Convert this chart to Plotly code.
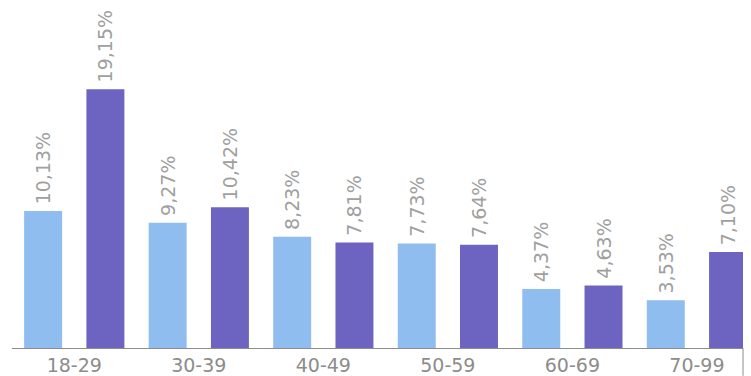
import plotly.graph_objects as go

categories = ["18-29", "30-39", "40-49", "50-59", "60-69", "70-99"]
series_a = [10.13, 9.27, 8.23, 7.73, 4.37, 3.53]
series_b = [19.15, 10.42, 7.81, 7.64, 4.63, 7.10]
labels_a = ["10,13%", "9,27%", "8,23%", "7,73%", "4,37%", "3,53%"]
labels_b = ["19,15%", "10,42%", "7,81%", "7,64%", "4,63%", "7,10%"]

font = dict(family="DejaVu Sans", size=19, color="#a0a0a0")

fig = go.Figure()
fig.add_trace(go.Bar(x=categories, y=series_a, text=["\u2009" + t for t in labels_a], textposition="outside",
                     textangle=-90, textfont=font, marker=dict(color="#8fbdf0", line=dict(width=0)),
                     cliponaxis=False, name="A"))
fig.add_trace(go.Bar(x=categories, y=series_b, text=["\u2009" + t for t in labels_b], textposition="outside",
                     textangle=-90, textfont=font, marker=dict(color="#6c64c0", line=dict(width=0)),
                     cliponaxis=False, name="B"))

fig.update_layout(
    width=751, height=376,
    margin=dict(l=12, r=8, t=0, b=25),
    barmode="group", bargap=0.0, bargroupgap=0.39,
    plot_bgcolor="white", paper_bgcolor="white",
    showlegend=False,
    uniformtext=dict(mode="show", minsize=19),
    xaxis=dict(type="category", range=[-0.5, 5.37], showline=True, linecolor="#8c8c8c", linewidth=1,
               showgrid=False, ticks="", tickfont=dict(family="DejaVu Sans", size=19, color="#8c8c8c"),
               fixedrange=True),
    yaxis=dict(range=[0, 25.75], visible=False, showgrid=False, zeroline=False),
    shapes=[dict(type="line", xref="paper", yref="paper", x0=1, x1=1, y0=0, y1=-0.08,
                 line=dict(color="#8c8c8c", width=1))],
)

fig.write_html("out.html", config={"displayModeBar": False},
               post_script="document.body.style.margin='0';document.body.style.overflow='hidden';")
